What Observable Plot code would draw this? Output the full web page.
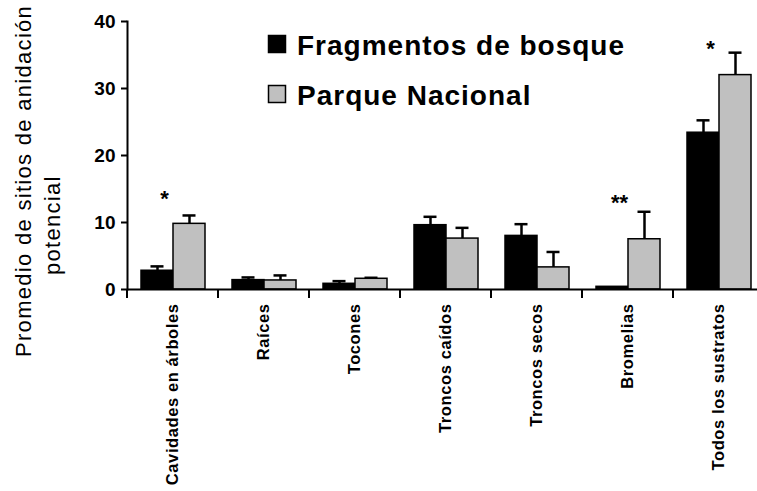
<!DOCTYPE html>
<html>
<head>
<meta charset="utf-8">
<script src="https://cdn.jsdelivr.net/npm/d3@7"></script>
<script src="https://cdn.jsdelivr.net/npm/@observablehq/plot@0.6"></script>
<style>
  html, body { margin: 0; padding: 0; background: white; overflow: hidden; }
  #wrap { position: relative; width: 757px; height: 491px; }
  #wrap svg.overlay { position: absolute; left: 0; top: 0; pointer-events: none; }
  g[aria-label="fx-axis tick label"] text { letter-spacing: 0.6px; }
</style>
</head>
<body>
<div id="wrap"></div>
<script>
const categories = ["Cavidades en árboles", "Raíces", "Tocones", "Troncos caídos", "Troncos secos", "Bromelias", "Todos los sustratos"];
const groups = ["Fragmentos de bosque", "Parque Nacional"];
const fragmentosMean = [2.8, 1.4, 0.85, 9.6, 8.0, 0.4, 23.4];
const fragmentosErr  = [0.65, 0.4, 0.4, 1.25, 1.75, 0, 1.85];
const parqueMean     = [9.8, 1.35, 1.6, 7.6, 3.3, 7.5, 32.0];
const parqueErr      = [1.25, 0.75, 0.15, 1.6, 2.3, 4.1, 3.35];
const sigCategories  = ["Cavidades en árboles", "Bromelias", "Todos los sustratos"];
const sigLabels      = ["*", "**", "*"];
const sigY           = [14.3, 13.7, 36.7];
const yTicks = [0, 10, 20, 30, 40];
const yTitle = ["Promedio de sitios de anidación", "potencial"];

const rows = [];
categories.forEach((c, i) => {
  rows.push({category: c, group: groups[0], mean: fragmentosMean[i], err: fragmentosErr[i]});
  rows.push({category: c, group: groups[1], mean: parqueMean[i], err: parqueErr[i]});
});
const errRows = rows.filter(d => d.err > 0);
const sig = sigCategories.map((c, i) => ({category: c, label: sigLabels[i], y: sigY[i]}));

// small ticks at the left edge of every category band
const boundaryTicks = (index, scales, values, dimensions) => {
  const ns = "http://www.w3.org/2000/svg";
  const line = document.createElementNS(ns, "line");
  const x = dimensions.marginLeft;
  const y0 = scales.y(0);
  line.setAttribute("x1", x); line.setAttribute("x2", x);
  line.setAttribute("y1", y0); line.setAttribute("y2", y0 + 9);
  line.setAttribute("stroke", "black"); line.setAttribute("stroke-width", 2);
  return line;
};

const chart = Plot.plot({
  width: 757,
  height: 491,
  marginLeft: 127,
  marginRight: -7,
  marginTop: 21,
  marginBottom: 202,
  style: {fontFamily: "'Liberation Sans', Arial, Helvetica, sans-serif", background: "white"},
  fx: {domain: categories, paddingInner: 0, paddingOuter: 0, axis: null},
  x: {domain: groups, paddingInner: 0, paddingOuter: 0.38, axis: null},
  y: {domain: [0, 40], axis: null},
  color: {domain: groups, range: ["black", "#c0c0c0"]},
  marks: [
    Plot.barY(rows, {fx: "category", x: "group", y: "mean", fill: "group", stroke: "black", strokeWidth: 1.5}),
    Plot.ruleX(errRows, {fx: "category", x: "group", y1: "mean", y2: d => d.mean + d.err, stroke: "black", strokeWidth: 2.5}),
    Plot.tickY(errRows, {fx: "category", x: "group", y: d => d.mean + d.err, stroke: "black", strokeWidth: 2.5, insetLeft: 9.5, insetRight: 9.5}),
    Plot.text(sig, {fx: "category", x: () => groups[0], y: "y", text: "label", dx: 7, dy: 5, fontSize: 22, fontWeight: "bold"}),
    Plot.ruleY([0], {stroke: "black", strokeWidth: 2}),
    boundaryTicks,
    Plot.frame({anchor: "left", facetAnchor: "left", stroke: "black", strokeWidth: 2}),
    Plot.axisY({ticks: yTicks, label: null, tickSize: 6, tickPadding: 6, fontSize: 19, fontWeight: "bold", strokeWidth: 2}),
    Plot.axisFx({anchor: "bottom", label: null, tickSize: 0, tickPadding: 14, tickRotate: -90, fontSize: 16.5, fontWeight: "bold"})
  ]
});

const wrap = document.getElementById("wrap");
wrap.appendChild(chart);

// overlay: legend and y title
const ov = d3.select(wrap).append("svg").attr("class", "overlay")
  .attr("width", 757).attr("height", 491)
  .style("font-family", "'Liberation Sans', Arial, Helvetica, sans-serif");

const legendColors = ["black", "#c0c0c0"];
groups.forEach((g, i) => {
  const base = [55, 105][i];
  ov.append("rect").attr("x", 268.5).attr("y", base - 19.5).attr("width", 17).attr("height", 17)
    .attr("fill", legendColors[i]).attr("stroke", "black").attr("stroke-width", 1.5);
  ov.append("text").attr("x", 297).attr("y", base).attr("font-size", 28).attr("font-weight", "bold")
    .attr("letter-spacing", "1px").attr("fill", "black").text(g);
});

ov.append("text").attr("transform", "translate(31,357) rotate(-90)")
  .attr("font-size", 22).attr("letter-spacing", "1.3px").attr("fill", "black").text(yTitle[0]);
ov.append("text").attr("transform", "translate(60,275) rotate(-90)")
  .attr("font-size", 22).attr("letter-spacing", "1.3px").attr("fill", "black").text(yTitle[1]);
</script>
</body>
</html>
